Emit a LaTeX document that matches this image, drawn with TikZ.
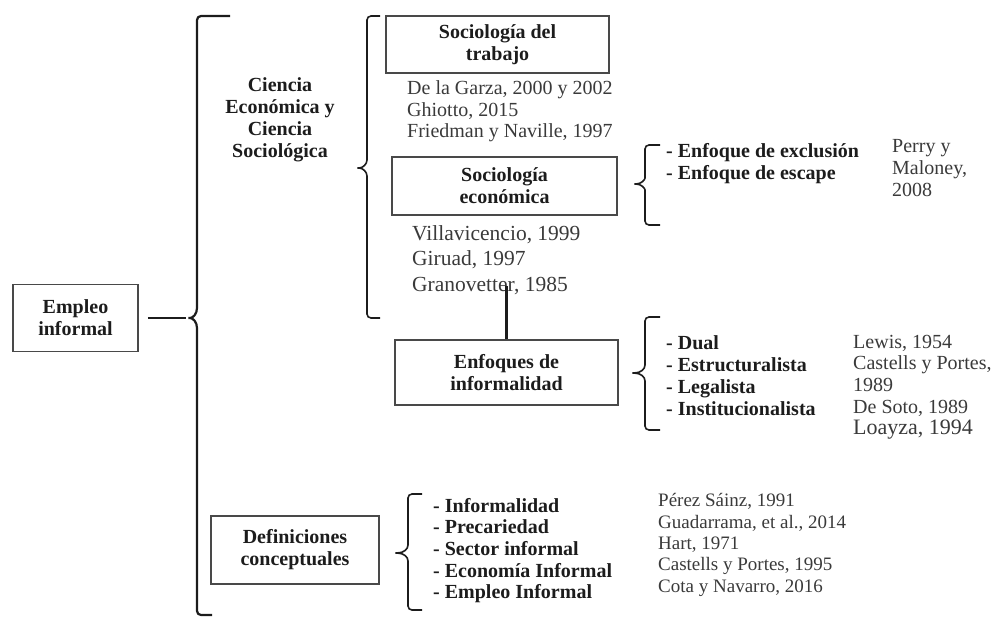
\documentclass[tikz,border=0pt]{standalone}
\usepackage{fontspec}
\setmainfont{Liberation Serif}
\usetikzlibrary{positioning}
\definecolor{tinta}{HTML}{1C1C1C}
\definecolor{cita}{HTML}{3A3A3A}
\tikzset{
        base/.style={align=center, text=tinta, font=\bfseries\fontsize{20}{22}\selectfont},
        caja/.style={base, draw=tinta!80, line width=1.5pt, inner sep=0pt},
        tema/.style={base, align=left, anchor=west, inner sep=0pt},
        refer/.style={align=left, anchor=west, inner sep=0pt, text=cita,
                      font=\fontsize{20}{21.7}\selectfont},
        llave/.style={draw=tinta, line width=1.6pt, rounded corners=4pt},
        linea/.style={draw=tinta, line width=2.2pt},
 }

\begin{document}
\begin{tikzpicture}[x=1pt, y=-1pt]
    \useasboundingbox (0,0) rectangle (995,618);

    \node[caja, minimum width=125, minimum height=67] (empleo) at (75.5,318) {Empleo\\informal};
    \node[base] (ciencia) at (280,119.5) {Ciencia\\Económica y\\Ciencia\\Sociológica};

    \node[caja, minimum width=223, minimum height=57] (trabajo) at (497.5,44.5) {Sociología del\\trabajo};
    \node[refer] (trabref) at (407,111.5) {De la Garza, 2000 y 2002\\Ghiotto, 2015\\Friedman y Naville, 1997};

    \node[caja, minimum width=225, minimum height=58] (soceco) at (504.5,186) {Sociología\\económica};
    \node[refer, font=\fontsize{21.5}{25.5}\selectfont] (socecoref) at (412,260) {Villavicencio, 1999\\Giruad, 1997\\Granovetter, 1985};
    \node[tema] (exclusion) at (666,163.5) {- Enfoque de exclusión\\- Enfoque de escape};
    \node[refer] (perry) at (892,168) {Perry y\\Maloney,\\2008};

    \node[caja, minimum width=223, minimum height=65] (enfoques) at (506.5,372.5) {Enfoques de\\informalidad};
    \node[tema] (tipos) at (666,375.5) {- Dual\\- Estructuralista\\- Legalista\\- Institucionalista};
    \node[refer] (lewis) at (853,375.5) {Lewis, 1954\\Castells y Portes,\\1989\\De Soto, 1989};
    \node[refer, font=\fontsize{22}{22}\selectfont] (loayza) at (853,430) {Loayza, 1994};

    \node[caja, minimum width=168, minimum height=68] (defin) at (295,550) {Definiciones\\conceptuales};
    \node[tema, font=\bfseries\fontsize{20}{21.7}\selectfont] (conceptos) at (433,550.5) {- Informalidad\\- Precariedad\\- Sector informal\\- Economía Informal\\- Empleo Informal};
    \node[refer, font=\fontsize{19}{21.3}\selectfont] (defref) at (658,545) {Pérez Sáinz, 1991\\Guadarrama, et al., 2014\\Hart, 1971\\Castells y Portes, 1995\\Cota y Navarro, 2016};

    % llaves
    \draw[llave, line width=2.2pt] (230,16) -- (197,16) -- (197,304) .. controls (197,314) and (193,318) .. (186,318)
          .. controls (193,318) and (197,322) .. (197,332) -- (197,615) -- (212,615);
    \draw[llave] (380,16) -- (367,16) -- (367,156) .. controls (367,164) and (363,168) .. (355,168)
          .. controls (363,168) and (367,172) .. (367,180) -- (367,318) -- (380,318);
    \draw[llave] (660,145) -- (645,145) -- (645,174) .. controls (645,180) and (641,184) .. (632,184)
          .. controls (641,184) and (645,188) .. (645,194) -- (645,225) -- (660,225);
    \draw[llave] (660,317) -- (645,317) -- (645,361) .. controls (645,369) and (641,373) .. (630,373)
          .. controls (641,373) and (645,377) .. (645,385) -- (645,430) -- (660,430);
    \draw[llave] (422,494) -- (408,494) -- (408,541) .. controls (408,549) and (404,553) .. (393,553)
          .. controls (404,553) and (408,557) .. (408,565) -- (408,610) -- (422,610);

    % conectores
    \coordinate (puntaA) at (186,318);
    \coordinate (gran) at (506.5,286);
    \draw[linea] ([xshift=9pt]empleo.east) -- (puntaA);
    \draw[linea] (enfoques.north) -- (gran);
\end{tikzpicture}
\end{document}
